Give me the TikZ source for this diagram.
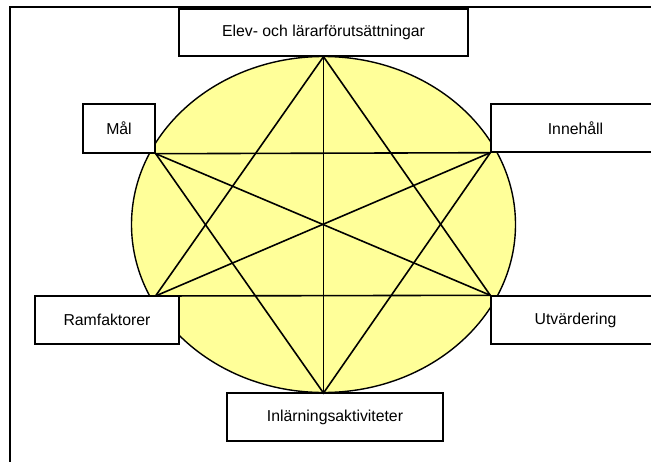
\documentclass[tikz,border=0pt]{standalone}
\usepackage{fontspec}
\setmainfont{Liberation Sans}
\definecolor{paleyel}{HTML}{FFFF99}

\begin{document}
\begin{tikzpicture}[x=1pt,y=-1pt,box/.style ={draw, fill=white, line width=1.4pt, inner sep=0pt, font=\fontsize{15.8}{18}\selectfont},lin/.style ={line width=1.6pt, line cap=round},frm/.style ={line width=2.2pt}]
\useasboundingbox (0,0) rectangle (651,461);
\clip (0,0) rectangle (651,461);

%outer frame
\draw[frm] (10,7) rectangle (700,520);

%yellow ellipse
\draw[fill=paleyel, line width=1.4pt] (323.5,224.5) ellipse [x radius=192, y radius=168];

%boxes
\node[box, minimum width=289, minimum height=47] at (323.5,32.5) (elev) {Elev- och lärarförutsättningar};
\node[box, minimum width=72, minimum height=49] at (119,128.5) (mal) {Mål};
\node[box, minimum width=169, minimum height=48] at (575.5,128) (inneh) {Innehåll};
\node[box, minimum width=144, minimum height=48] at (107,320) (ramf) {Ramfaktorer};
\node[box, minimum width=169, minimum height=48] at (575.5,320) (utv) {Utvärdering};
\node[box, minimum width=216, minimum height=48] at (335,417) (inl) {Inlärningsaktiviteter};
\coordinate (bot) at (323.5,393);
\coordinate (rvt) at (155.5,296);

%star
\draw[lin] (elev.south) -- (rvt) -- (utv.north west) -- cycle;
\draw[lin] (bot) -- (mal.south east) -- (inneh.south west) -- cycle;
\draw[lin] (elev.south) -- (bot);
\draw[lin] (mal.south east) -- (utv.north west);
\draw[lin] (inneh.south west) -- (rvt);
\end{tikzpicture}
\end{document}
